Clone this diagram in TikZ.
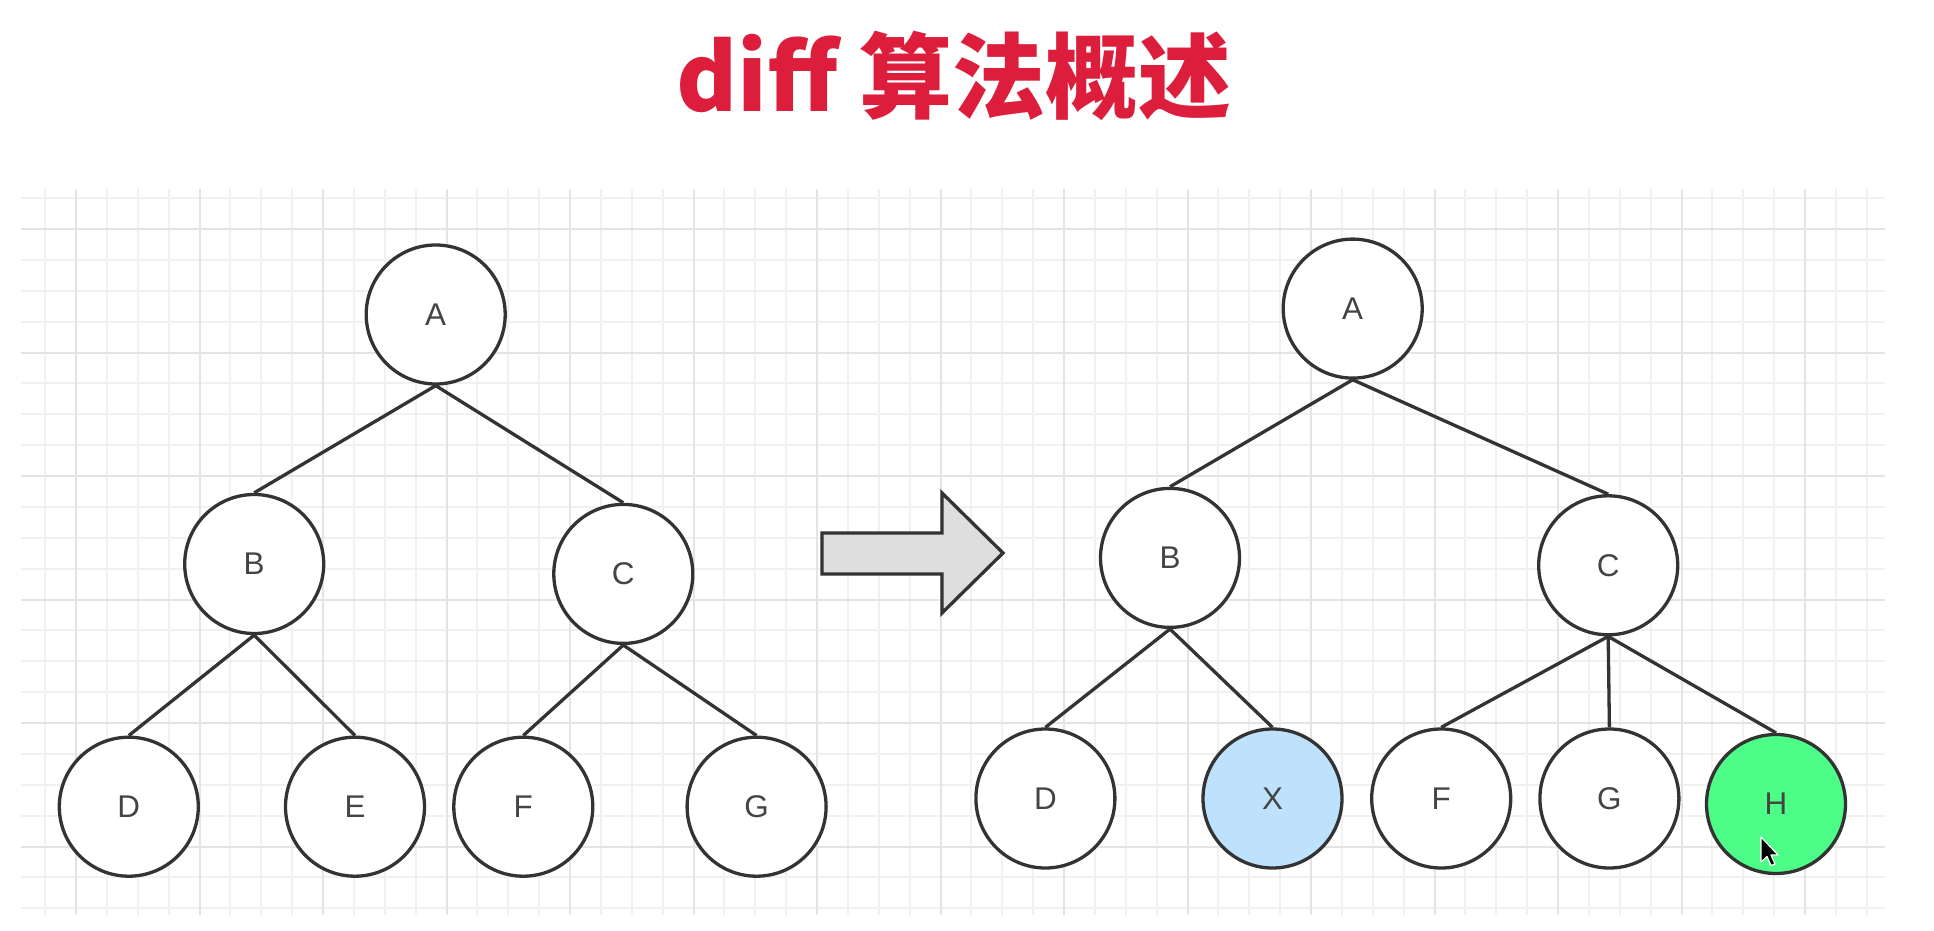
\documentclass[tikz,border=0pt]{standalone}
\usepackage{fontspec}
\setmainfont{Liberation Sans}
\newfontfamily\cjk{Noto Sans CJK SC}
\definecolor{strokec}{HTML}{333333}
\definecolor{letterc}{HTML}{444444}
\definecolor{titlec}{RGB}{220,30,60}
\definecolor{gridminor}{HTML}{F1F1F1}
\definecolor{gridmajor}{HTML}{E4E4E4}
\definecolor{bluefill}{HTML}{BEE2FD}
\definecolor{greenfill}{HTML}{4EFC88}
\definecolor{arrowfill}{HTML}{DEDEDE}
\begin{document}
\begin{tikzpicture}[x=0.5pt,y=-0.5pt,
  tnode/.style={circle, draw=strokec, line width=1.65pt, fill=white, minimum size=69.5pt, inner sep=0pt,
    font=\fontsize{15.7}{18}\selectfont, text=letterc},
  link/.style={draw=strokec, line width=1.65pt},
  minorline/.style={draw=gridminor, line width=1pt},
  majorline/.style={draw=gridmajor, line width=1pt}]
\useasboundingbox (0,0) rectangle (1934,931);
\fill[white] (0,0) rectangle (1934,931);
% grid
\foreach \k in {-1,...,58} {\draw[minorline] ({76+30.875*\k},189) -- ({76+30.875*\k},915);}
\foreach \k in {-1,...,22} {\draw[minorline] (21,{229+30.875*\k}) -- (1885,{229+30.875*\k});}
\foreach \j in {0,...,14} {\draw[majorline] ({76+123.5*\j},189) -- ({76+123.5*\j},915);}
\foreach \j in {0,...,5} {\draw[majorline] (21,{229+123.5*\j}) -- (1885,{229+123.5*\j});}
% title
\node[anchor=base, inner sep=0pt, text=titlec, font=\cjk\bfseries\fontsize{46.5}{50}\selectfont] (title) at (954,112) {diff 算法概述};
% left tree
\node[tnode] (lA) at (435.7,314.5) {A};
\node[tnode] (lB) at (254.2,564) {B};
\node[tnode] (lC) at (623.3,573.9) {C};
\node[tnode] (lD) at (128.8,806.7) {D};
\node[tnode] (lE) at (355,806.7) {E};
\node[tnode] (lF) at (523.3,806.7) {F};
\node[tnode] (lG) at (756.6,806.7) {G};
\draw[link] (lA.south) -- (lB.north);
\draw[link] (lA.south) -- (lC.north);
\draw[link] (lB.south) -- (lD.north);
\draw[link] (lB.south) -- (lE.north);
\draw[link] (lC.south) -- (lF.north);
\draw[link] (lC.south) -- (lG.north);
% arrow
\draw[draw=strokec, line width=1.65pt, fill=arrowfill, line join=miter]
  (822,533) -- (942,533) -- (942,493) -- (1003,553) -- (942,613) -- (942,574) -- (822,574) -- cycle;
% right tree
\node[tnode] (rA) at (1352.7,308.6) {A};
\node[tnode] (rB) at (1170,557.9) {B};
\node[tnode] (rC) at (1608.2,565.3) {C};
\node[tnode] (rD) at (1045.4,798.5) {D};
\node[tnode, fill=bluefill] (rX) at (1272.5,798.5) {X};
\node[tnode] (rF) at (1441.2,798.5) {F};
\node[tnode] (rG) at (1609.4,798.5) {G};
\node[tnode, fill=greenfill] (rH) at (1776,804) {H};
\draw[link] (rA.south) -- (rB.north);
\draw[link] (rA.south) -- (rC.north);
\draw[link] (rB.south) -- (rD.north);
\draw[link] (rB.south) -- (rX.north);
\draw[link] (rC.south) -- (rF.north);
\draw[link] (rC.south) -- (rG.north);
\draw[link] (rC.south) -- (rH.north);
% mouse cursor
\begin{scope}[shift={(1761,837)}]
\draw[fill=black, draw=white, line width=0.6pt, line join=round]
  (0,0) -- (0,25) -- (6,19.5) -- (10,28.5) -- (14,27) -- (10,18) -- (17,18) -- cycle;
\end{scope}
\end{tikzpicture}
\end{document}
